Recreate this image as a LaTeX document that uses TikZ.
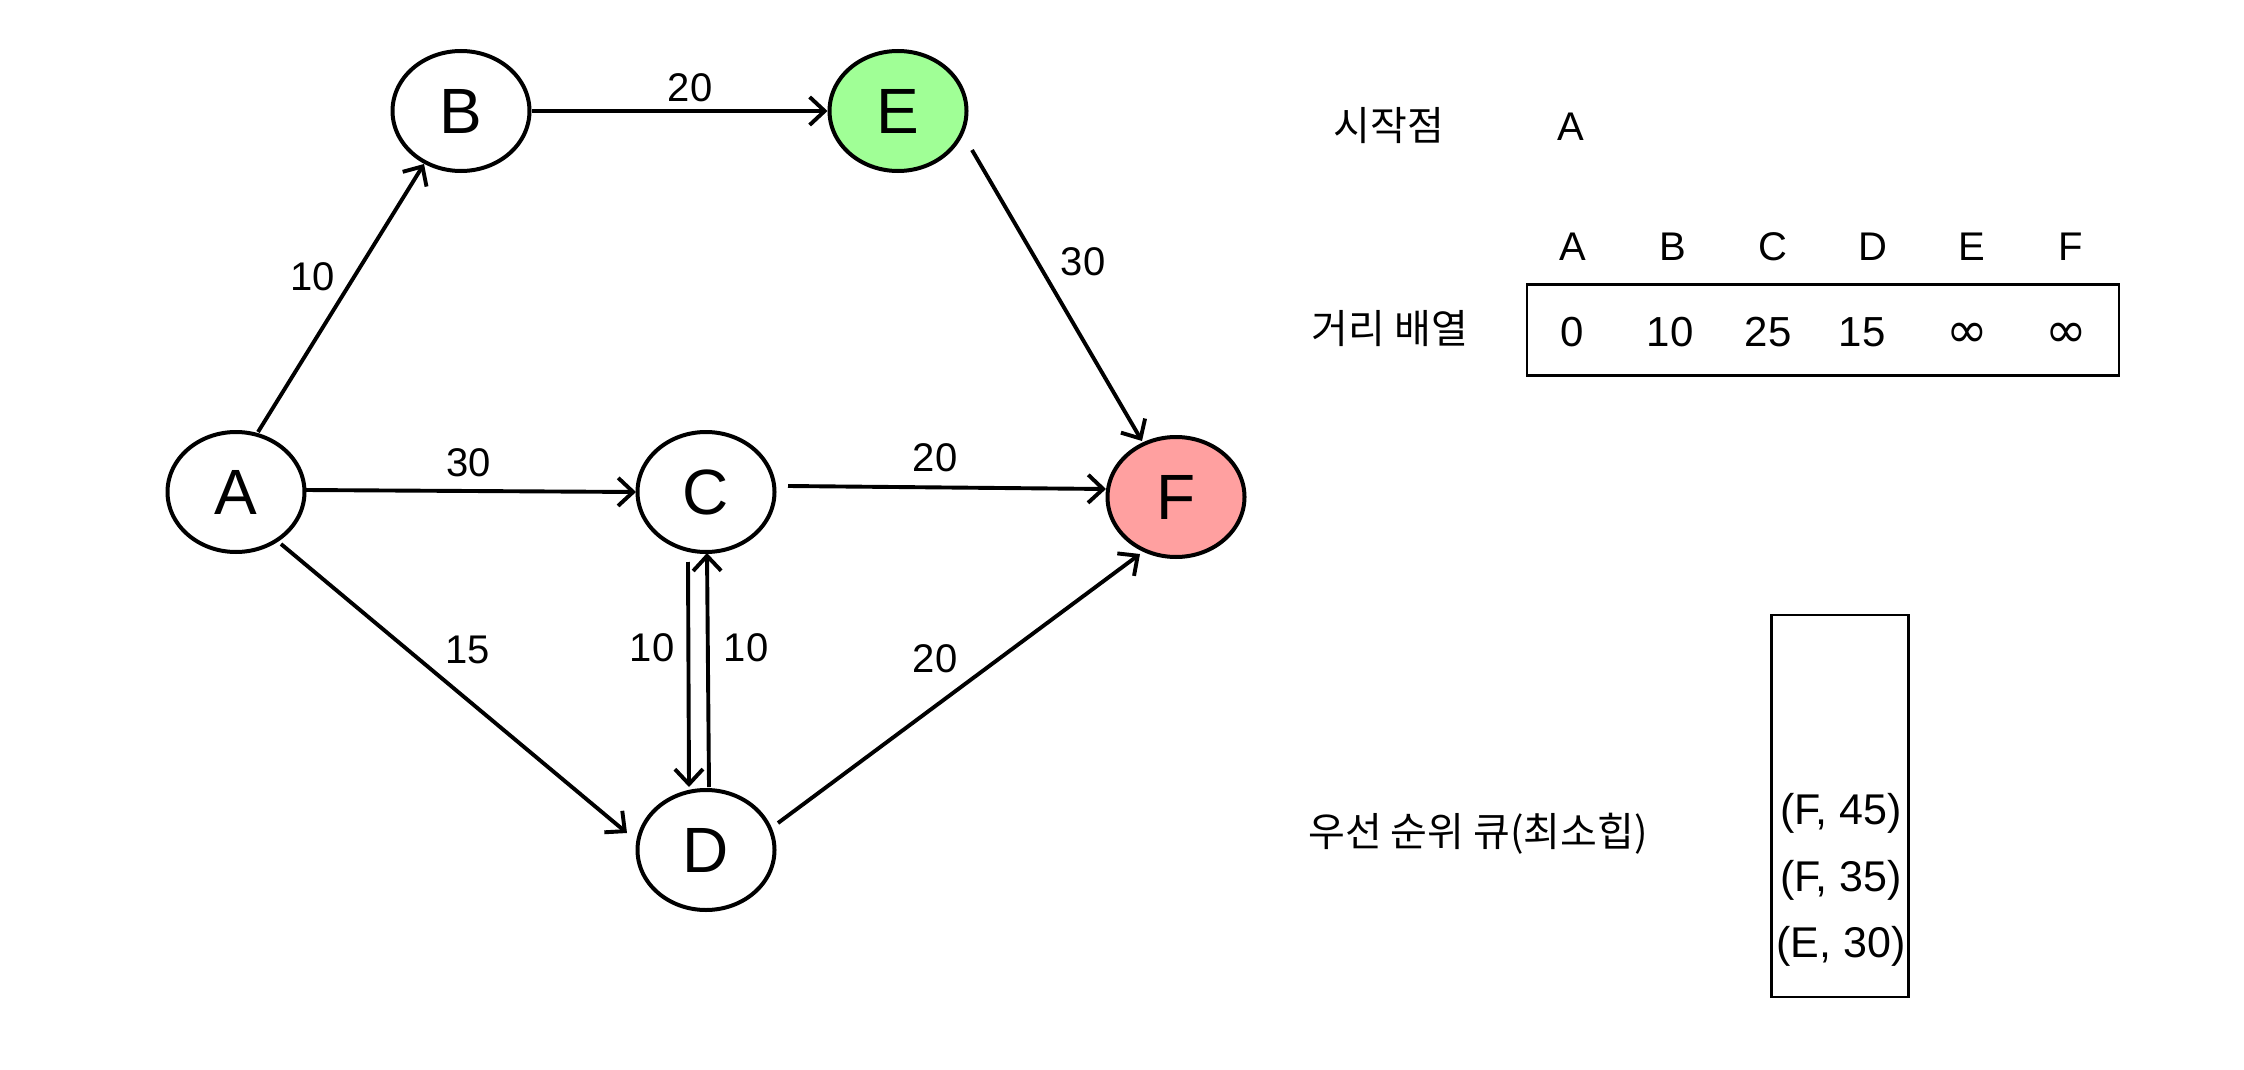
\documentclass[tikz,border=0pt]{standalone}
\usepackage{fontspec}
\setmainfont{Liberation Sans}
\newfontfamily\krfont{Noto Sans CJK KR}
\newfontfamily\symfont{DejaVu Sans}
\usetikzlibrary{shapes.geometric, arrows.meta}
\definecolor{egreen}{RGB}{160,255,150}
\definecolor{fred}{RGB}{255,160,160}
\begin{document}
\begin{tikzpicture}[x=1pt,y=-1pt,
  vert/.style={ellipse, draw, line width=4pt, minimum width=137pt, minimum height=120pt, inner sep=0pt, font=\fontsize{64}{70}\selectfont},
  edge/.style={line width=3.9pt, -{Straight Barb[length=15pt,width=28pt]}},
  wt/.style={font=\fontsize{40}{44}\selectfont, inner sep=0pt},
  hdr/.style={font=\fontsize{40}{44}\selectfont, inner sep=0pt},
  val/.style={font=\fontsize{42}{46}\selectfont, inner sep=0pt},
  inf/.style={font=\symfont\fontsize{50}{54}\selectfont, inner sep=0pt},
  krt/.style={font=\krfont\fontsize{40}{46}\selectfont, inner sep=0pt},
  qit/.style={font=\fontsize{43}{46}\selectfont, inner sep=0pt},
  panel/.style={draw, line width=2.5pt, inner sep=0pt},
]
\fill[white] (0,0) rectangle (2244,1070);
\useasboundingbox (0,0) rectangle (2244,1070);

% vertices
\node[vert] (A) at (236,492) {A};
\node[vert] (B) at (461,111) {B};
\node[vert, fill=egreen] (E) at (898,111) {E};
\node[vert] (C) at (706,492) {C};
\node[vert, fill=fred] (F) at (1176,497) {F};
\node[vert] (D) at (706,850) {D};

% edges
\draw[edge] ([shift={(22,-60)}]A.center) -- ([shift={(-37,53)}]B.center);
\draw[edge] (B.east) -- (E.west);
\draw[edge] ([shift={(74,39)}]E.center) -- ([shift={(-34,-56)}]F.center);
\draw[edge] ([shift={(69,-2)}]A.center) -- ([shift={(-70,0)}]C.center);
\draw[edge] ([shift={(82,-6)}]C.center) -- ([shift={(-70,-8)}]F.center);
\draw[edge] ([shift={(45,52)}]A.center) -- ([shift={(-79,-17)}]D.center);
\draw[edge] ([shift={(72,-27)}]D.center) -- ([shift={(-36,57)}]F.center);
\draw[edge] ([shift={(-18,70)}]C.center) -- ([shift={(-17,-63)}]D.center);
\draw[edge] ([shift={(3,-63)}]D.center) -- ([shift={(1,61)}]C.center);

% weights
\node[wt] (w1) at (313,277) {10};
\node[wt] (w2) at (690,88) {20};
\node[wt] (w3) at (1083,262) {30};
\node[wt] (w4) at (469,463) {30};
\node[wt] (w5) at (935,458) {20};
\node[wt] (w6) at (468,650) {15};
\node[wt] (w7) at (652,648) {10};
\node[wt] (w8) at (746,648) {10};
\node[wt] (w9) at (935,659) {20};

% start
\node[krt] (s0) at (1389,126) {시작점};
\node[hdr] (s1) at (1571,127) {A};

% distance array
\node[hdr] (hA) at (1573,247) {A};
\node[hdr] (hB) at (1673,247) {B};
\node[hdr] (hC) at (1773,247) {C};
\node[hdr] (hD) at (1873,247) {D};
\node[hdr] (hE) at (1972,247) {E};
\node[hdr] (hF) at (2071,247) {F};
\node[krt] (d0) at (1390,329) {거리 배열};
\node[panel, minimum width=592pt, minimum height=91pt] (dist) at (1823,330) {};
\node[val] (vA) at (1572,332) {0};
\node[val] (vB) at (1670,332) {10};
\node[val] (vC) at (1768,332) {25};
\node[val] (vD) at (1862,332) {15};
\node[inf] (vE) at (1967,335) {∞};
\node[inf] (vF) at (2066,335) {∞};

% priority queue
\node[krt, anchor=west] (q0) at (1308,834) {우선 순위 큐(최소힙)};
\node[panel, minimum width=137pt, minimum height=382pt] (queue) at (1840,806) {};
\node[qit] (q1) at (1841,813) {(F, 45)};
\node[qit] (q2) at (1841,880) {(F, 35)};
\node[qit] (q3) at (1841,946) {(E, 30)};
\end{tikzpicture}
\end{document}
